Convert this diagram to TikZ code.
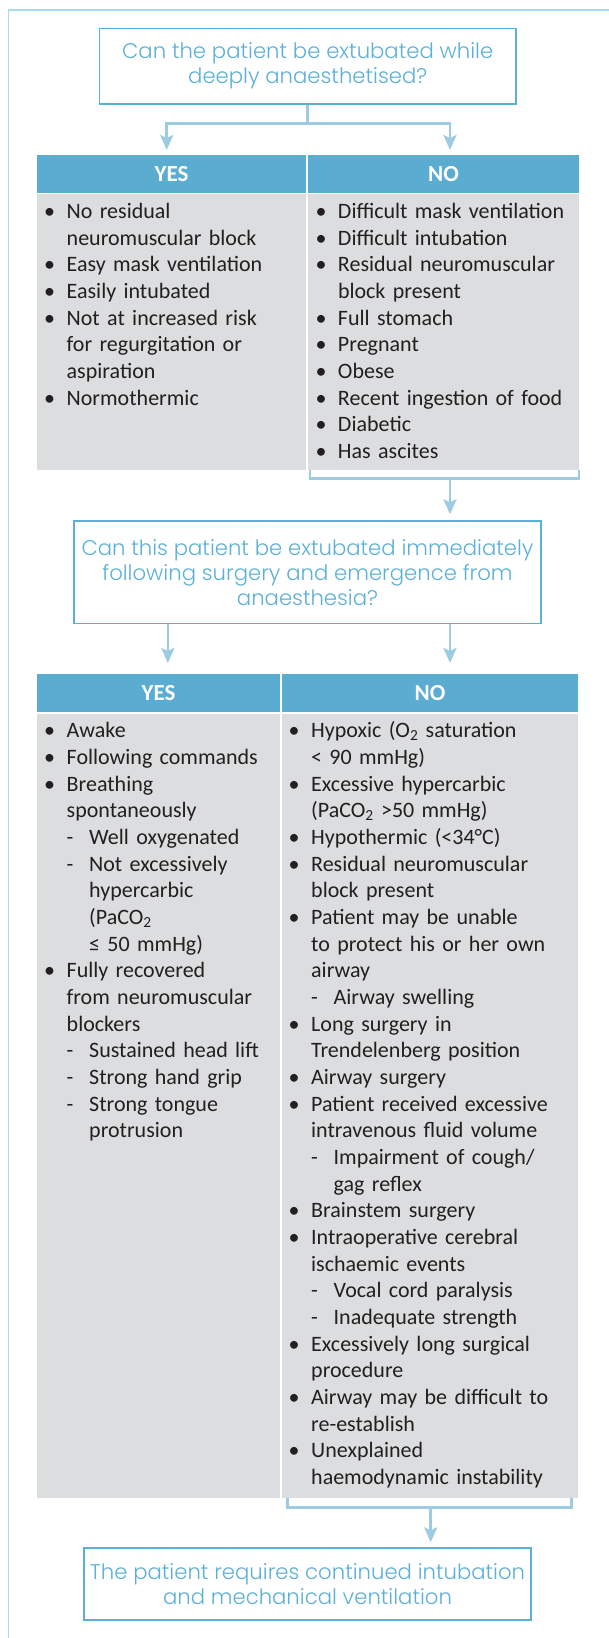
\documentclass[tikz,border=0pt]{standalone}
\usepackage{fontspec}
\setmainfont{Carlito}
\newfontfamily\qfont{Poppins Light}
\usetikzlibrary{arrows.meta,positioning}

\definecolor{qblue}{HTML}{5BB0D8}
\definecolor{hdrblue}{HTML}{5AACD1}
\definecolor{lineblue}{HTML}{9DCCE2}
\definecolor{frameblue}{HTML}{A6DCEF}
\definecolor{cellgray}{HTML}{DCDDDE}
\definecolor{ink}{HTML}{231F20}

% list lines
\newcommand{\bitem}[1]{\hangindent=22.5pt\hangafter=1\noindent\makebox[22.5pt][l]{\textbullet}#1\par}
\newcommand{\sitem}[1]{\hangindent=45pt\hangafter=1\noindent\hspace*{22.5pt}\makebox[22.5pt][l]{-}#1\par}

\begin{document}
\begin{tikzpicture}[x=1pt, y=-1pt, >={Stealth[length=15pt,width=13pt,inset=3pt]},
    question/.style={draw=qblue, line width=1.5pt, text=qblue, inner sep=0pt, align=center,
        font=\qfont\fontsize{21.2}{25}\selectfont},
    header/.style={fill=hdrblue, text=white, inner sep=0pt, anchor=north west,
        font=\bfseries\fontsize{23}{25}\selectfont},
    cell/.style={fill=cellgray, inner sep=0pt, anchor=north west},
    items/.style={text=ink, inner sep=0pt, anchor=base west, align=left,
        font=\fontsize{22}{26.67}\selectfont},
    conn/.style={draw=lineblue, line width=2.6pt}]
    \useasboundingbox (0,0) rectangle (609,1638);
    \draw[frameblue, line width=1.3pt] (609,10) -- (8.5,10) -- (8.5,1638);

    % first question
    \node[question, minimum width=416.7, minimum height=75.7] (q1) at (307.7,66.2)
        {Can the patient be extubated while\\deeply anaesthetised?};
    \node[header, minimum width=269.4, minimum height=37.5] (yes1) at (36.6,155) {YES};
    \node[header, minimum width=270.7, minimum height=37.5] (no1) at (308,155) {NO};
    \node[cell, minimum width=269.4, minimum height=276] (cyes1) at (36.6,194) {};
    \node[cell, minimum width=270.7, minimum height=276] (cno1) at (308,194) {};
    \node[items, text width=255] (lyes1) at (44,218.4) {%
        \bitem{No residual\newline neuromuscular block}
        \bitem{Easy mask ventilation}
        \bitem{Easily intubated}
        \bitem{Not at increased risk\newline for regurgitation or\newline aspiration}
        \bitem{Normothermic}};
    \node[items, text width=262] (lno1) at (315.3,218.4) {%
        \bitem{Difficult mask ventilation}
        \bitem{Difficult intubation}
        \bitem{Residual neuromuscular\newline block present}
        \bitem{Full stomach}
        \bitem{Pregnant}
        \bitem{Obese}
        \bitem{Recent ingestion of food}
        \bitem{Diabetic}
        \bitem{Has ascites}};

    \coordinate (j1) at (307.7,123.3);
    \coordinate (a1l) at (166.7,150);
    \coordinate (a1r) at (450,150);
    \draw[conn] (q1.south) -- (j1);
    \draw[conn,->] (j1) -| (a1l);
    \draw[conn,->] (j1) -| (a1r);

    % second question
    \node[question, minimum width=467, minimum height=102.3] (q2) at (307.5,572.2)
        {Can this patient be extubated immediately\\following surgery and emergence from\\anaesthesia?};
    \draw[conn] ([xshift=2pt]cno1.south west) -- ++(0,8) coordinate (b1l)
        -- (b1l -| cno1.south east) -- (cno1.south east);
    \coordinate (br1) at (450,478);
    \draw[conn,->,shorten >=6pt] (br1) -- (br1 |- q2.north);

    \node[header, minimum width=243.3, minimum height=38] (yes2) at (36.7,674) {YES};
    \node[header, minimum width=295.5, minimum height=38] (no2) at (282,674) {NO};
    \node[cell, minimum width=243.3, minimum height=783.3] (cyes2) at (36.7,714) {};
    \node[cell, minimum width=295.5, minimum height=783.3] (cno2) at (282,714) {};
    \coordinate (a2l) at (167.8,663);
    \coordinate (a2r) at (450,663);
    \draw[conn,->] (q2.south -| a2l) -- (a2l);
    \draw[conn,->] (q2.south -| a2r) -- (a2r);

    \node[items, text width=232] (lyes2) at (44,737.8) {%
        \bitem{Awake}
        \bitem{Following commands}
        \bitem{Breathing\newline spontaneously}
        \sitem{Well oxygenated}
        \sitem{Not excessively\newline hypercarbic\newline (PaCO\textsubscript{2}\newline ≤ 50 mmHg)}
        \bitem{Fully recovered\newline from neuromuscular\newline blockers}
        \sitem{Sustained head lift}
        \sitem{Strong hand grip}
        \sitem{Strong tongue\newline protrusion}};
    \node[items, text width=286] (lno2) at (288.5,737.8) {%
        \bitem{Hypoxic (O\textsubscript{2} saturation\newline < 90 mmHg)}
        \bitem{Excessive hypercarbic\newline (PaCO\textsubscript{2} >50 mmHg)}
        \bitem{Hypothermic (<34°C)}
        \bitem{Residual neuromuscular\newline block present}
        \bitem{Patient may be unable\newline to protect his or her own\newline airway}
        \sitem{Airway swelling}
        \bitem{Long surgery in\newline Trendelenberg position}
        \bitem{Airway surgery}
        \bitem{Patient received excessive\newline intravenous fluid volume}
        \sitem{Impairment of cough/\newline gag reflex}
        \bitem{Brainstem surgery}
        \bitem{Intraoperative cerebral\newline ischaemic events}
        \sitem{Vocal cord paralysis}
        \sitem{Inadequate strength}
        \bitem{Excessively long surgical\newline procedure}
        \bitem{Airway may be difficult to\newline re-establish}
        \bitem{Unexplained\newline haemodynamic instability}};

    % outcome
    \node[question, minimum width=447, minimum height=72.3] (q3) at (307.5,1583.9)
        {The patient requires continued intubation\\and mechanical ventilation};
    \coordinate (b2r) at ([xshift=-6.5pt]cno2.south east);
    \draw[conn] ([xshift=5.7pt]cno2.south west) -- ++(0,9.7) coordinate (b2l)
        -- (b2l -| b2r) -- (b2r);
    \coordinate (br2) at (430.7,1507);
    \draw[conn,->,shorten >=4.7pt] (br2) -- (br2 |- q3.north);
\end{tikzpicture}
\end{document}
